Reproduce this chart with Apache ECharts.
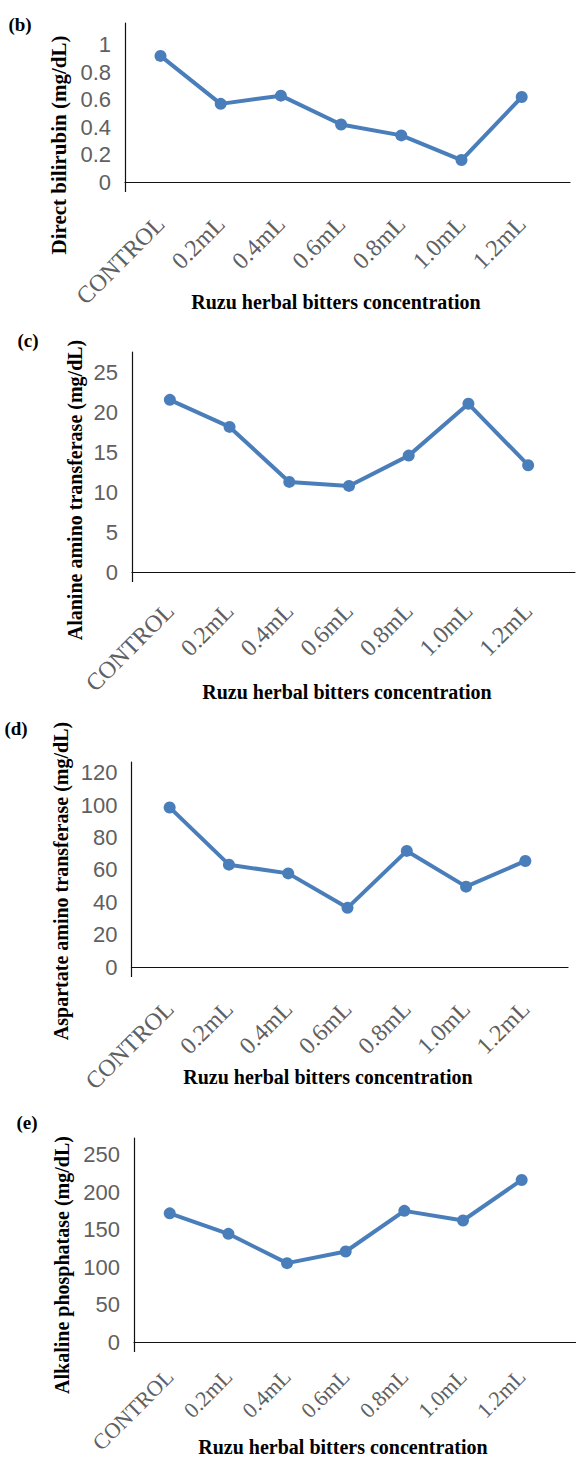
<!DOCTYPE html>
<html lang="en">

<head>
  <meta charset="UTF-8">
  <title>Ruzu herbal bitters</title>
  <script src="https://cdn.jsdelivr.net/npm/echarts@6/dist/echarts.min.js"></script>
  <style>
    body { margin: 0; background: #fff; }
  </style>
</head>

<body>
  <div id="main" style="width: 576px;height: 1460px;"></div>
  <script>
    const categories = ['CONTROL', '0.2mL', '0.4mL', '0.6mL', '0.8mL', '1.0mL', '1.2mL']

    // values
    const directBilirubin = [0.92, 0.57, 0.63, 0.42, 0.34, 0.16, 0.62]
    const alanineTransferase = [21.6, 18.2, 11.3, 10.8, 14.6, 21.1, 13.4]
    const aspartateTransferase = [98.7, 63.3, 57.9, 36.6, 71.8, 49.7, 65.6]
    const alkalinePhosphatase = [172, 144.6, 105.4, 121, 175.3, 162.4, 216.6]

    // y tick labels of each panel
    const bilirubinTicks = [0, 0.2, 0.4, 0.6, 0.8, 1]
    const alanineTicks = [0, 5, 10, 15, 20, 25]
    const aspartateTicks = [0, 20, 40, 60, 80, 100, 120]
    const phosphataseTicks = [0, 50, 100, 150, 200, 250]

    const xTitle = 'Ruzu herbal bitters concentration'

    // layout of the four panels (pixels)
    const panels = [
      {
        tag: '(b)', tagX: 20, tagY: 24,
        yTitle: 'Direct bilirubin (mg/dL)', yTitleX: 59, yTitleY: 145, yTitleSize: 21,
        xTitleX: 336, xTitleY: 302, labelMargin: 38, labelSize: 24,
        data: directBilirubin, ticks: bilirubinTicks, max: 1.16,
        axisX: 125, axisRight: 570, plotLeft: 130.4, plotRight: 551.8, top: 23, zero: 182
      },
      {
        tag: '(c)', tagX: 28, tagY: 340,
        yTitle: 'Alanine amino transferase (mg/dL)', yTitleX: 75, yTitleY: 490, yTitleSize: 20,
        xTitleX: 347, xTitleY: 692, labelMargin: 35, labelSize: 24,
        data: alanineTransferase, ticks: alanineTicks, max: 27.6,
        axisX: 132, axisRight: 575, plotLeft: 140, plotRight: 558, top: 352, zero: 572
      },
      {
        tag: '(d)', tagX: 16, tagY: 728,
        yTitle: 'Aspartate amino transferase (mg/dL)', yTitleX: 61, yTitleY: 881, yTitleSize: 20,
        xTitleX: 328, xTitleY: 1077, labelMargin: 38, labelSize: 24,
        data: aspartateTransferase, ticks: aspartateTicks, max: 126.8,
        axisX: 131.5, axisRight: 568, plotLeft: 140, plotRight: 555, top: 762, zero: 967
      },
      {
        tag: '(e)', tagX: 27, tagY: 1122,
        yTitle: 'Alkaline phosphatase (mg/dL)', yTitleX: 62, yTitleY: 1265, yTitleSize: 20,
        xTitleX: 343, xTitleY: 1447, labelMargin: 31, labelSize: 22,
        data: alkalinePhosphatase, ticks: phosphataseTicks, max: 272.7,
        axisX: 134, axisRight: 576, plotLeft: 140.4, plotRight: 551, top: 1138, zero: 1342
      }
    ]

    const blue = '#4A7EBB'
    const grey = '#606060'
    const serif = '"Liberation Serif", "Times New Roman", serif'

    const grid = []
    const xAxis = []
    const yAxis = []
    const series = []
    const graphic = []

    panels.forEach((p, i) => {
      const height = p.zero - p.top
      const step = p.ticks[1] - p.ticks[0]

      // frame: axis lines and y labels
      grid.push({ left: p.axisX, top: p.top, width: p.axisRight - p.axisX, height, outerBoundsMode: 'none', containLabel: false })
      xAxis.push({
        type: 'value', gridIndex: 2 * i, min: 0, max: 1,
        axisLine: { show: true, lineStyle: { color: '#111', width: 1.2 } },
        axisTick: { show: true, customValues: [0], length: 10, lineStyle: { color: '#111', width: 1.2 } },
        axisLabel: { show: false },
        splitLine: { show: false }
      })
      yAxis.push({
        type: 'value', gridIndex: 2 * i, min: 0, max: p.max, interval: step,
        axisLine: { show: true, lineStyle: { color: '#111', width: 1.2 } },
        axisTick: { show: false },
        splitLine: { show: false },
        axisLabel: {
          showMaxLabel: false, margin: 14, color: grey,
          fontFamily: '"Liberation Sans", Arial, sans-serif', fontSize: 22
        }
      })

      // plot: categories and the line
      grid.push({ left: p.plotLeft, top: p.top, width: p.plotRight - p.plotLeft, height, outerBoundsMode: 'none', containLabel: false })
      xAxis.push({
        type: 'category', gridIndex: 2 * i + 1, data: categories,
        axisLine: { show: false },
        axisTick: { show: false },
        axisLabel: {
          rotate: 45, margin: p.labelMargin, color: grey, interval: 0,
          fontFamily: serif, fontSize: p.labelSize
        }
      })
      yAxis.push({ type: 'value', gridIndex: 2 * i + 1, min: 0, max: p.max, show: false })
      series.push({
        type: 'line', xAxisIndex: 2 * i + 1, yAxisIndex: 2 * i + 1,
        data: p.data,
        symbol: 'circle', symbolSize: 12,
        lineStyle: { color: blue, width: 4 },
        itemStyle: { color: blue },
        animation: false
      })

      graphic.push(
        {
          type: 'text', x: p.tagX, y: p.tagY,
          style: { text: p.tag, fill: '#000', font: 'bold 19px ' + serif, align: 'center', verticalAlign: 'middle', textAlign: 'center', textVerticalAlign: 'middle' }
        },
        {
          type: 'text', x: p.yTitleX, y: p.yTitleY, rotation: Math.PI / 2,
          style: { text: p.yTitle, fill: '#000', font: 'bold ' + p.yTitleSize + 'px ' + serif, align: 'center', verticalAlign: 'middle', textAlign: 'center', textVerticalAlign: 'middle' }
        },
        {
          type: 'text', x: p.xTitleX, y: p.xTitleY,
          style: { text: xTitle, fill: '#000', font: 'bold 20px ' + serif, align: 'center', verticalAlign: 'middle', textAlign: 'center', textVerticalAlign: 'middle' }
        }
      )
    })

    const chart = echarts.init(document.getElementById('main'), null, { renderer: 'svg' })
    chart.setOption({
      animation: false,
      backgroundColor: '#fff',
      grid,
      xAxis,
      yAxis,
      series,
      graphic
    })
  </script>
</body>

</html>
